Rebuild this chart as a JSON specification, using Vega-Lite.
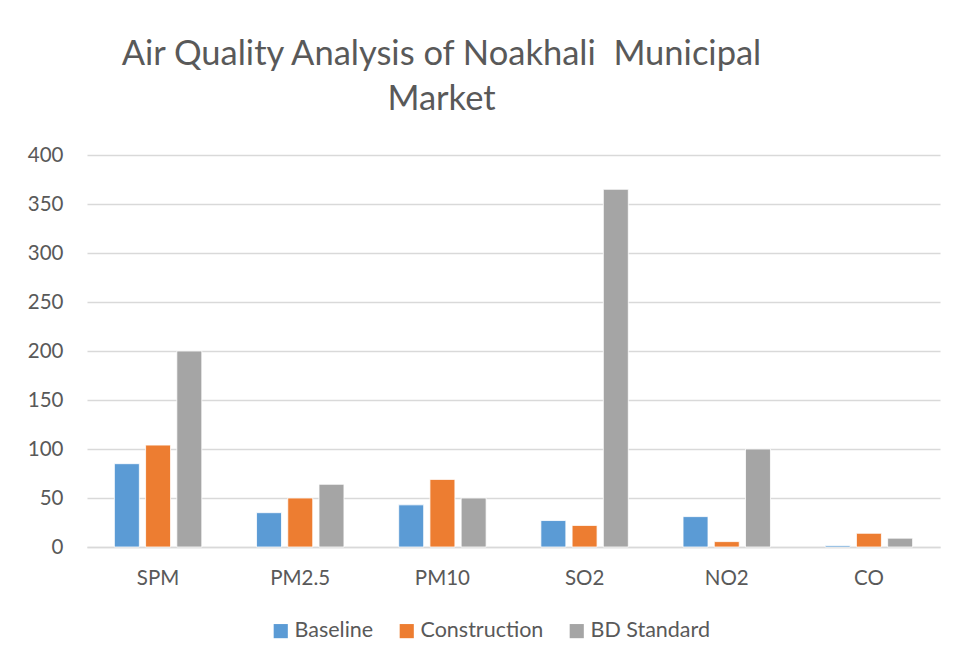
{
  "$schema": "https://vega.github.io/schema/vega-lite/v6.json",
  "autosize": "none",
  "width": 853,
  "height": 392,
  "padding": {"left": 87, "top": 155, "right": 18, "bottom": 118},
  "background": "white",
  "title": {
    "text": ["Air Quality Analysis of Noakhali\u00a0 Municipal", "Market"],
    "anchor": "middle",
    "dx": -72,
    "font": "Lato",
    "fontSize": 34.5,
    "fontWeight": "normal",
    "color": "#595959",
    "lineHeight": 45,
    "offset": 28
  },
  "data": {
    "values": [
      {"param": "SPM", "series": "Baseline", "value": 85},
      {"param": "SPM", "series": "Construction", "value": 104},
      {"param": "SPM", "series": "BD Standard", "value": 200},
      {"param": "PM2.5", "series": "Baseline", "value": 35},
      {"param": "PM2.5", "series": "Construction", "value": 50},
      {"param": "PM2.5", "series": "BD Standard", "value": 64},
      {"param": "PM10", "series": "Baseline", "value": 43},
      {"param": "PM10", "series": "Construction", "value": 69},
      {"param": "PM10", "series": "BD Standard", "value": 50},
      {"param": "SO2", "series": "Baseline", "value": 27},
      {"param": "SO2", "series": "Construction", "value": 22},
      {"param": "SO2", "series": "BD Standard", "value": 365},
      {"param": "NO2", "series": "Baseline", "value": 31},
      {"param": "NO2", "series": "Construction", "value": 5.5},
      {"param": "NO2", "series": "BD Standard", "value": 100},
      {"param": "CO", "series": "Baseline", "value": 1.5},
      {"param": "CO", "series": "Construction", "value": 14},
      {"param": "CO", "series": "BD Standard", "value": 9}
    ]
  },
  "mark": {"type": "bar", "stroke": "white", "strokeWidth": 0.8},
  "encoding": {
    "x": {
      "field": "param",
      "type": "nominal",
      "sort": ["SPM", "PM2.5", "PM10", "SO2", "NO2", "CO"],
      "scale": {"paddingInner": 0.385, "paddingOuter": 0.1925},
      "axis": {
        "title": null,
        "labelAngle": 0,
        "ticks": false,
        "domain": true,
        "domainColor": "#D9D9D9",
        "domainWidth": 1.5,
        "labelFont": "Lato",
        "labelFontSize": 20.5,
        "labelColor": "#595959",
        "labelPadding": 21,
        "grid": false
      }
    },
    "xOffset": {
      "field": "series",
      "type": "nominal",
      "sort": ["Baseline", "Construction", "BD Standard"],
      "scale": {"paddingInner": 0.2, "paddingOuter": 0}
    },
    "y": {
      "field": "value",
      "type": "quantitative",
      "scale": {"domain": [0, 400], "nice": false},
      "axis": {
        "title": null,
        "values": [0, 50, 100, 150, 200, 250, 300, 350, 400],
        "domain": false,
        "ticks": false,
        "grid": true,
        "gridColor": "#D9D9D9",
        "gridWidth": 1.5,
        "labelFont": "Lato",
        "labelFontSize": 20.5,
        "labelColor": "#595959",
        "labelPadding": 24
      }
    },
    "color": {
      "field": "series",
      "type": "nominal",
      "sort": ["Baseline", "Construction", "BD Standard"],
      "scale": {
        "domain": ["Baseline", "Construction", "BD Standard"],
        "range": ["#5B9BD5", "#ED7D31", "#A5A5A5"]
      },
      "legend": {
        "title": null,
        "orient": "none",
        "direction": "horizontal",
        "legendX": 183,
        "legendY": 465,
        "symbolType": "square",
        "symbolSize": 200,
        "symbolStrokeWidth": 0,
        "labelFont": "Lato",
        "labelFontSize": 21.5,
        "labelColor": "#595959",
        "labelOffset": 3,
        "columnPadding": 22
      }
    }
  },
  "config": {
    "view": {"stroke": null}
  }
}
